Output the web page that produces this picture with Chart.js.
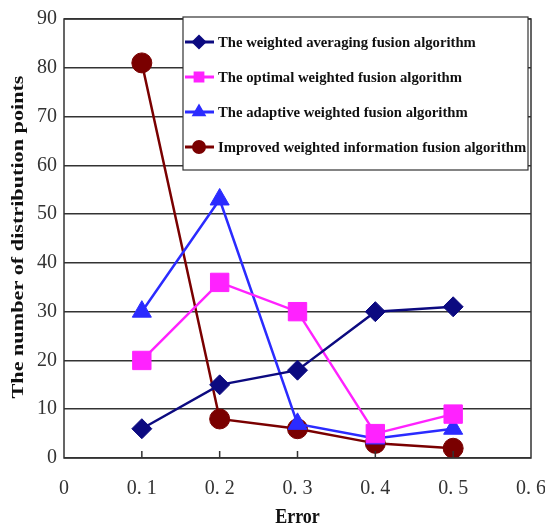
<!DOCTYPE html>
<html>
<head>
<meta charset="utf-8">
<script src="https://cdn.jsdelivr.net/npm/chart.js@4"></script>
<style>
  html, body { margin: 0; padding: 0; background: #fff; }
  #wrap { width: 545px; height: 526px; }
</style>
</head>
<body>
<div id="wrap"><canvas id="chart" width="545" height="526"></canvas></div>
<script>
  // Data
  const errors = [0.1, 0.2, 0.3, 0.4, 0.5];
  const averaging = [6, 15, 18, 30, 31];
  const optimal = [20, 36, 30, 5, 9];
  const adaptive = [30, 53, 7, 4, 6];
  const improved = [81, 8, 6, 3, 2];
  const seriesNames = [
    'The weighted averaging fusion algorithm',
    'The optimal weighted fusion algorithm',
    'The adaptive weighted fusion algorithm',
    'Improved weighted information fusion algorithm'
  ];
  const xTitle = 'Error';
  const yTitle = 'The number of distribution points';

  const serif = '"Liberation Serif", "DejaVu Serif", serif';

  function toPoints(values) {
    return values.map((v, i) => ({ x: errors[i], y: v }));
  }

  // Frame, inward ticks, axis titles and boxed legend
  const framePlugin = {
    id: 'frame',
    afterDatasetsDraw(chart) {
      const { ctx, chartArea: a, scales } = chart;
      ctx.save();
      ctx.strokeStyle = '#333';
      ctx.lineWidth = 1.5;
      ctx.strokeRect(a.left, a.top, a.right - a.left, a.bottom - a.top);
      // inward x ticks
      ctx.beginPath();
      errors.forEach(e => {
        const px = scales.x.getPixelForValue(e);
        ctx.moveTo(px, a.bottom);
        ctx.lineTo(px, a.bottom - 7);
      });
      ctx.stroke();
      ctx.restore();
    },
    afterDraw(chart) {
      const { ctx, chartArea: a } = chart;
      ctx.save();

      // x title (tall, narrow face in the original)
      ctx.fillStyle = '#111';
      ctx.textAlign = 'center';
      ctx.textBaseline = 'middle';
      ctx.font = 'bold 18px ' + serif;
      ctx.save();
      ctx.translate((a.left + a.right) / 2, 517);
      ctx.scale(1, 1.2);
      ctx.fillText(xTitle, 0, 0);
      ctx.restore();

      // y title, stretched along its length
      ctx.font = 'bold 17px ' + serif;
      const w = ctx.measureText(yTitle).width;
      ctx.save();
      ctx.translate(19, 237);
      ctx.rotate(-Math.PI / 2);
      ctx.scale(323 / w, 1);
      ctx.fillText(yTitle, 0, 0);
      ctx.restore();

      // legend
      const box = { x: 183, y: 17, w: 345, h: 153 };
      ctx.fillStyle = '#fff';
      ctx.fillRect(box.x, box.y, box.w, box.h);
      ctx.strokeStyle = '#333';
      ctx.lineWidth = 1.2;
      ctx.strokeRect(box.x, box.y, box.w, box.h);
      ctx.font = 'bold 14.7px ' + serif;
      ctx.textAlign = 'left';
      chart.data.datasets.forEach((ds, i) => {
        const yy = 42 + i * 35;
        ctx.strokeStyle = ds.borderColor;
        ctx.lineWidth = 3;
        ctx.beginPath();
        ctx.moveTo(185, yy);
        ctx.lineTo(214, yy);
        ctx.stroke();
        ctx.fillStyle = ds.backgroundColor;
        ctx.strokeStyle = ds.backgroundColor;
        Chart.helpers.drawPoint(ctx, {
          pointStyle: ds.pointStyle,
          radius: 5.5,
          rotation: 0,
          borderWidth: 1
        }, 199, yy);
        ctx.fillStyle = '#111';
        ctx.fillText(seriesNames[i], 218, yy + 1);
      });
      ctx.restore();
    }
  };

  function makeSet(i, values, color, style, radius) {
    return {
      label: seriesNames[i],
      data: toPoints(values),
      borderColor: color,
      backgroundColor: color,
      borderWidth: 2.5,
      pointStyle: style,
      pointRadius: radius,
      pointBorderWidth: 1,
      tension: 0
    };
  }

  new Chart(document.getElementById('chart').getContext('2d'), {
    type: 'line',
    data: {
      datasets: [
        makeSet(0, averaging, '#0c0a80', 'rectRot', 10),
        makeSet(1, optimal, '#ff22ff', 'rect', 13),
        makeSet(2, adaptive, '#2b2bff', 'triangle', 11),
        makeSet(3, improved, '#7a0000', 'circle', 10)
      ]
    },
    options: {
      responsive: false,
      animation: false,
      layout: { padding: { top: 17, right: 14, bottom: 0, left: 0 } },
      plugins: { legend: { display: false }, tooltip: { enabled: false } },
      scales: {
        x: {
          type: 'linear',
          min: 0,
          max: 0.6,
          afterFit: s => { s.height = 68; s.paddingRight = 0; s.paddingLeft = 0; },
          ticks: {
            stepSize: 0.1,
            color: '#333',
            padding: 11,
            font: { family: serif, size: 20 },
            callback: v => (v === 0 ? '0' : v.toFixed(1).replace('.', '. '))
          },
          grid: { display: false },
          border: { display: false },
          title: { display: false }
        },
        y: {
          min: 0,
          max: 90,
          afterFit: s => { s.width = 64; },
          ticks: {
            stepSize: 10,
            color: '#333',
            padding: 7,
            font: { family: serif, size: 20 }
          },
          grid: { color: '#333', lineWidth: 1.5, drawTicks: false },
          border: { display: false },
          title: { display: false }
        }
      }
    },
    plugins: [framePlugin]
  });
</script>
</body>
</html>
